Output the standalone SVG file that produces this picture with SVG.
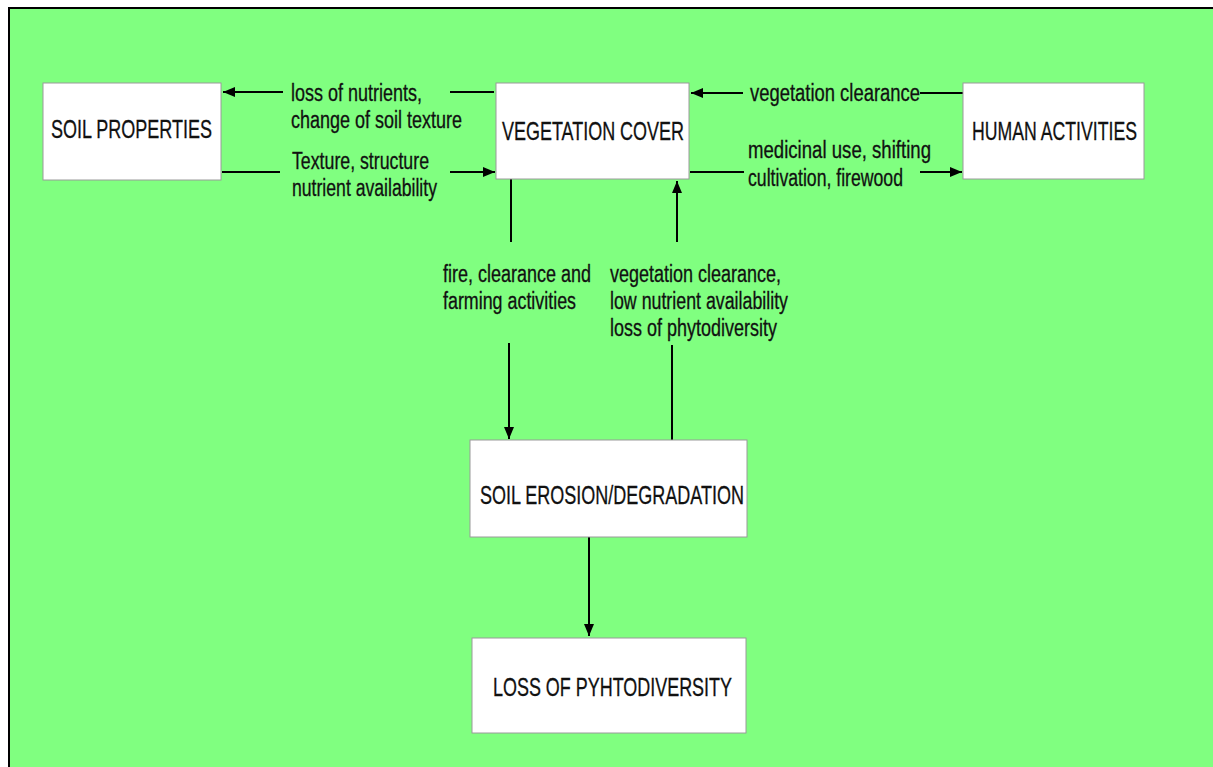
<svg xmlns="http://www.w3.org/2000/svg" width="1213" height="767" viewBox="0 0 1213 767">
<defs>
<style>
.box{fill:#ffffff;stroke:#9a9a9a;stroke-width:1}
.t{font-family:"Liberation Sans Narrow","Arial Narrow","Liberation Sans",Arial,sans-serif;fill:#111111;stroke:#111111;stroke-width:0.3}
.title{font-size:26px}
.lbl{font-size:23px}
.c{fill:none;stroke:#000000;stroke-width:2}
</style>
<marker id="ah" viewBox="0 0 12 10" refX="12" refY="5" markerWidth="6" markerHeight="5" orient="auto" markerUnits="strokeWidth">
<path d="M0 0 L12 5 L0 10 Z" fill="#000000"/>
</marker>
</defs>
<rect x="0" y="0" width="1213" height="767" fill="#ffffff"/>
<rect x="9" y="8" width="1220" height="770" fill="#80ff80" stroke="#000000" stroke-width="2"/>

<g id="connectors">
<path class="c" d="M494 92 H450"/>
<path class="c" d="M283 92 H223" marker-end="url(#ah)"/>
<path class="c" d="M222 172 H280"/>
<path class="c" d="M450 172 H495" marker-end="url(#ah)"/>
<path class="c" d="M963 93 H920"/>
<path class="c" d="M743 93 H691" marker-end="url(#ah)"/>
<path class="c" d="M690 172 H744"/>
<path class="c" d="M920 172 H962" marker-end="url(#ah)"/>
<path class="c" d="M511 179 V242"/>
<path class="c" d="M509 343 V439" marker-end="url(#ah)"/>
<path class="c" d="M672 440 V345"/>
<path class="c" d="M677 242 V181" marker-end="url(#ah)"/>
<path class="c" d="M589 537 V636" marker-end="url(#ah)"/>
</g>

<g id="labels">
<text class="t lbl" x="291" y="101" textLength="131" lengthAdjust="spacingAndGlyphs">loss of nutrients,</text>
<text class="t lbl" x="291" y="128" textLength="171" lengthAdjust="spacingAndGlyphs">change of soil texture</text>
<text class="t lbl" x="292" y="169" textLength="137" lengthAdjust="spacingAndGlyphs">Texture, structure</text>
<text class="t lbl" x="292" y="196" textLength="145" lengthAdjust="spacingAndGlyphs">nutrient availability</text>
<text class="t lbl" x="750" y="101" textLength="170" lengthAdjust="spacingAndGlyphs">vegetation clearance</text>
<text class="t lbl" x="748" y="158" textLength="183" lengthAdjust="spacingAndGlyphs">medicinal use, shifting</text>
<text class="t lbl" x="748" y="186" textLength="155" lengthAdjust="spacingAndGlyphs">cultivation, firewood</text>
<text class="t lbl" x="443" y="282" textLength="148" lengthAdjust="spacingAndGlyphs">fire, clearance and</text>
<text class="t lbl" x="443" y="309" textLength="133" lengthAdjust="spacingAndGlyphs">farming activities</text>
<text class="t lbl" x="610" y="282" textLength="171" lengthAdjust="spacingAndGlyphs">vegetation clearance,</text>
<text class="t lbl" x="610" y="309" textLength="178" lengthAdjust="spacingAndGlyphs">low nutrient availability</text>
<text class="t lbl" x="610" y="336" textLength="167" lengthAdjust="spacingAndGlyphs">loss of phytodiversity</text>
</g>

<g id="soil-properties">
<rect class="box" x="43" y="83" width="178" height="97"/>
<text class="t title" x="51" y="138" textLength="161" lengthAdjust="spacingAndGlyphs">SOIL PROPERTIES</text>
</g>
<g id="vegetation-cover">
<rect class="box" x="496" y="83" width="193" height="96"/>
<text class="t title" x="502" y="140" textLength="182" lengthAdjust="spacingAndGlyphs">VEGETATION COVER</text>
</g>
<g id="human-activities">
<rect class="box" x="963" y="83" width="181" height="96"/>
<text class="t title" x="972" y="140" textLength="165" lengthAdjust="spacingAndGlyphs">HUMAN ACTIVITIES</text>
</g>
<g id="soil-erosion">
<rect class="box" x="470" y="440" width="277" height="97"/>
<text class="t title" x="480" y="504" textLength="264" lengthAdjust="spacingAndGlyphs">SOIL EROSION/DEGRADATION</text>
</g>
<g id="loss-of-phytodiversity">
<rect class="box" x="472" y="638" width="274" height="95"/>
<text class="t title" x="493" y="696" textLength="239" lengthAdjust="spacingAndGlyphs">LOSS OF PYHTODIVERSITY</text>
</g>
</svg>
